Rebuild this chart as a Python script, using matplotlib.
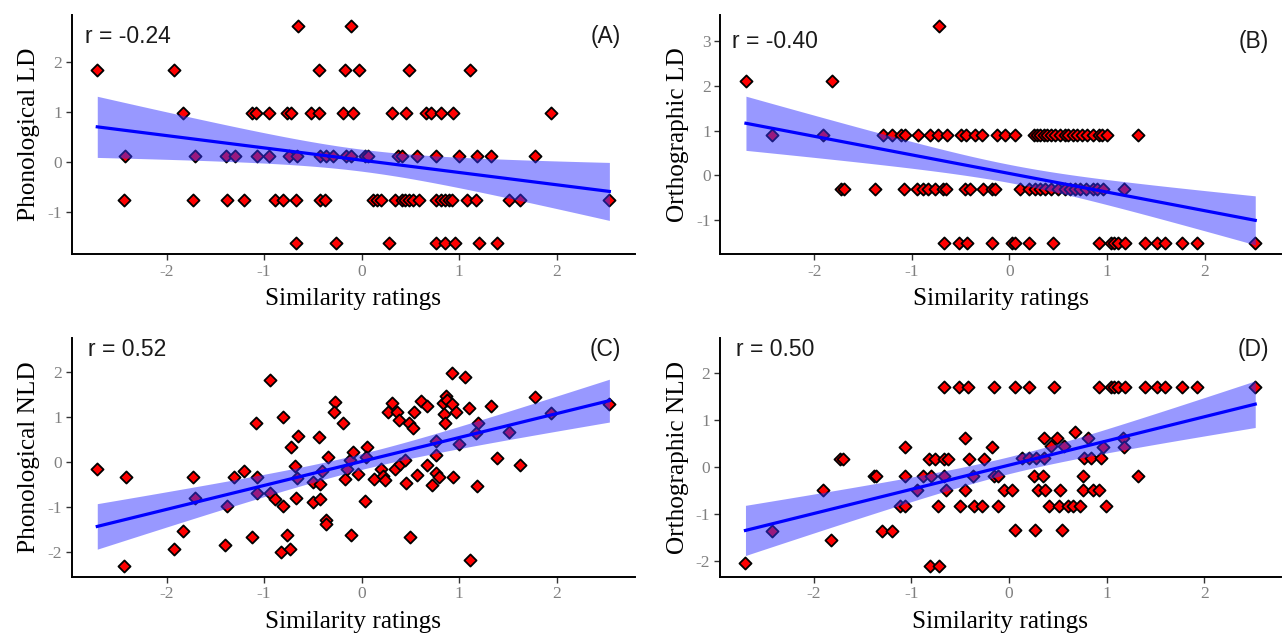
import numpy as np
import matplotlib
matplotlib.use("Agg")
import matplotlib.pyplot as plt
from matplotlib.ticker import MultipleLocator

plt.rcParams['axes.unicode_minus'] = False

# ---- panel A: Phonological LD (discrete y levels) ----
a_levels = [2.72, 1.84, 0.97, 0.11, -0.77, -1.63]
a_rows = [
    [-0.65, -0.11],
    [-2.71, -1.92, -0.44, -0.17, -0.03, 0.49, 1.11],
    [-1.83, -1.12, -1.08, -0.95, -0.76, -0.72, -0.52, -0.44, -0.19, -0.09,
     0.31, 0.45, 0.66, 0.71, 0.81, 0.94, 1.94],
    [-2.43, -1.71, -1.39, -1.30, -1.07, -0.95, -0.74, -0.66, -0.43, -0.36,
     -0.29, -0.16, -0.11, 0.03, 0.07, 0.37, 0.41, 0.57, 0.76, 1.00, 1.18,
     1.33, 1.78],
    [-2.44, -1.73, -1.38, -1.21, -0.89, -0.81, -0.67, -0.43, -0.38, 0.12,
     0.16, 0.20, 0.34, 0.41, 0.44, 0.49, 0.53, 0.59, 0.76, 0.81, 0.86, 0.90,
     0.93, 1.08, 1.17, 1.51, 1.62, 2.54],
    [-0.67, -0.26, 0.28, 0.76, 0.85, 0.96, 1.20, 1.39],
]

# ---- panel B: Orthographic LD (discrete y levels) ----
b_levels = [3.35, 2.11, 0.90, -0.31, -1.52]
b_rows = [
    [-0.72],
    [-2.70, -1.82],
    [-2.43, -1.91, -1.30, -1.20, -1.11, -1.07, -0.94, -0.81, -0.73, -0.64,
     -0.50, -0.44, -0.35, -0.28, -0.13, -0.04, 0.06, 0.25, 0.28, 0.31, 0.35,
     0.39, 0.43, 0.47, 0.52, 0.57, 0.60, 0.65, 0.69, 0.74, 0.80, 0.86, 0.92,
     0.95, 1.00, 1.32],
    [-1.73, -1.70, -1.38, -1.08, -0.95, -0.89, -0.83, -0.76, -0.68, -0.65,
     -0.45, -0.40, -0.27, -0.18, -0.15, 0.11, 0.20, 0.26, 0.31, 0.37, 0.43,
     0.50, 0.57, 0.62, 0.67, 0.72, 0.79, 0.86, 0.90, 0.96, 1.17],
    [-0.67, -0.52, -0.43, -0.18, 0.03, 0.06, 0.20, 0.45, 0.92, 1.04, 1.07,
     1.11, 1.19, 1.39, 1.51, 1.60, 1.77, 1.92, 2.52],
]

# ---- panel C: Phonological NLD ----
c_x = [-2.71, -2.42, -2.44, -1.92, -1.83, -1.73, -1.71, -1.38, -1.40, -1.31,
       -1.21, -1.12, -1.08, -1.07, -1.07, -0.94, -0.94, -0.89, -0.81, -0.81,
       -0.83, -0.73, -0.76, -0.72, -0.68, -0.66, -0.67, -0.65, -0.50, -0.50,
       -0.44, -0.43, -0.43, -0.41, -0.37, -0.36, -0.34, -0.27, -0.28, -0.19,
       -0.17, -0.15, -0.12, -0.09, -0.11, -0.04, 0.03, 0.06, 0.05, 0.13,
       0.20, 0.22, 0.24, 0.31, 0.27, 0.36, 0.38, 0.34, 0.39, 0.44,
       0.49, 0.53, 0.54, 0.46, 0.57, 0.50, 0.61, 0.67, 0.67, 0.76,
       0.76, 0.76, 0.79, 0.72, 0.83, 0.84, 0.85, 0.87, 0.88, 0.93,
       0.93, 0.97, 0.94, 1.00, 1.06, 1.10, 1.11, 1.18, 1.19, 1.17,
       1.33, 1.39, 1.51, 1.62, 1.78, 1.94, 2.54]
c_y = [-0.17, -0.33, -2.31, -1.94, -1.54, -0.33, -0.81, -0.99, -1.85, -0.33,
       -0.21, -1.68, 0.86, -0.33, -0.69, 1.82, -0.69, -0.83, 0.99, -0.99,
       -2.01, -1.94, -1.63, 0.33, -0.10, -0.36, -0.81, 0.58, -0.44, -0.89,
       0.55, -0.50, -0.83, -0.21, -1.29, -1.39, 0.11, 1.32, 1.10, 0.86,
       -0.39, -0.17, 0.05, 0.21, -1.62, -0.26, -0.86, 0.33, 0.11, -0.39,
       -0.16, -0.32, -0.41, 1.30, 1.11, 1.11, 0.93, -0.17, -0.06, 0.05,
       0.86, 0.75, 1.11, -0.46, -0.29, -1.67, 1.34, 1.24, -0.07, 0.14,
       0.46, -0.24, -0.33, -0.52, 1.30, 1.07, 0.86, 1.47, 1.37, 1.98,
       1.28, 1.11, -0.33, 0.40, 1.89, 1.19, -2.17, -0.53, 0.86, 0.64,
       1.23, 0.09, 0.66, -0.07, 1.44, 1.08, 1.28]

# ---- panel D: Orthographic NLD ----
d_x = [-2.70, -2.43, -1.91, -1.82, -1.73, -1.70, -1.38, -1.36, -1.30, -1.20,
       -1.07, -1.07, -1.12, -1.07, -0.94, -0.88, -0.82, -0.80, -0.76, -0.81,
       -0.72, -0.73, -0.67, -0.67, -0.63, -0.65, -0.67, -0.51, -0.42, -0.45,
       -0.41, -0.45, -0.50, -0.36, -0.28, -0.37, -0.26, -0.18, -0.16, -0.15,
       -0.11, -0.11,
       0.06, 0.20, 0.46, 0.92, 1.04, 1.07, 1.11, 1.19, 1.39, 1.51, 1.60, 1.77,
       1.92, 2.52,
       -0.05, 0.03, 0.06, 0.26, 0.54, 0.13, 0.20, 0.28, 0.36, 0.25, 0.35,
       0.30, 0.37, 0.52, 0.41, 0.51, 0.60, 0.65, 0.73, 0.36, 0.49, 0.43,
       0.56, 0.67, 0.81, 0.77, 0.84, 0.94, 0.96, 0.76, 0.76, 0.86, 0.92,
       0.99, 1.17, 1.18, 1.32]
d_y = [-2.03, -1.35, -0.48, -1.56, 0.17, 0.17, -0.20, -0.20, -1.35, -1.35,
       0.42, -0.20, -0.83, -0.83, -0.48, -0.20, 0.17, -0.20, 0.17, -2.10,
       -2.10, -0.83, -0.20, 0.17, 0.17, -0.48, 1.69, 1.69, 1.69, 0.61,
       0.17, -0.48, -0.83, -0.83, -0.83, -0.20, 0.17, 0.42, 1.69, -0.20,
       -0.20, -0.83,
       1.69, 1.69, 1.69, 1.69, 1.69, 1.69, 1.69, 1.69, 1.69, 1.69, 1.69, 1.69,
       1.69, 1.69,
       -0.48, -0.48, -1.34, -1.34, -1.34, 0.19, 0.19, 0.19, 0.19, -0.20, -0.20,
       -0.48, -0.48, -0.48, -0.83, -0.83, -0.83, -0.83, -0.83, 0.61, 0.61, 0.44,
       0.44, 0.75, 0.61, 0.19, 0.19, 0.19, 0.42, -0.20, -0.48, -0.48, -0.48,
       -0.83, 0.61, 0.42, -0.20]


def flatten(levels, rows):
    xs, ys = [], []
    for lv, row in zip(levels, rows):
        xs += row
        ys += [lv] * len(row)
    return np.array(xs), np.array(ys)


a_x, a_y = flatten(a_levels, a_rows)
b_x, b_y = flatten(b_levels, b_rows)

panels = [
    (a_x, a_y, "Phonological LD", "r = -0.24", "(A)", 2.5),
    (b_x, b_y, "Orthographic LD", "r = -0.40", "(B)", 3.0),
    (np.array(c_x), np.array(c_y), "Phonological NLD", "r = 0.52", "(C)", 2.5),
    (np.array(d_x), np.array(d_y), "Orthographic NLD", "r = 0.50", "(D)", 2.5),
]

fig = plt.figure(figsize=(12.82, 6.36), dpi=100)
boxes = [
    [0.0559, 0.6006, 0.4394, 0.3758],
    [0.5620, 0.6006, 0.4370, 0.3758],
    [0.0559, 0.0932, 0.4394, 0.3749],
    [0.5616, 0.0932, 0.4374, 0.3749],
]

serif = "Liberation Serif"
sans = "Liberation Sans"

for box, (x, y, ylab, rtxt, tag, lab_y) in zip(boxes, panels):
    ax = fig.add_axes(box)

    ax.scatter(x, y, marker="D", s=38, facecolor="red", edgecolor="black",
               linewidths=1.3, zorder=2)

    # linear fit with 95% confidence band
    n = len(x)
    slope, icpt = np.polyfit(x, y, 1)
    xs = np.linspace(x.min(), x.max(), 80)
    fit = icpt + slope * xs
    resid = y - (icpt + slope * x)
    s = np.sqrt(np.sum(resid ** 2) / (n - 2))
    se = s * np.sqrt(1 / n + (xs - x.mean()) ** 2 / np.sum((x - x.mean()) ** 2))
    ax.fill_between(xs, fit - 1.98 * se, fit + 1.98 * se, color="#3333ff",
                    alpha=0.5, linewidth=0, zorder=3)
    ax.plot(xs, fit, color="#0000ff", linewidth=2.3, zorder=4)

    # text annotations
    ax.text(-2.4, lab_y, rtxt, ha="center", va="center", fontsize=16.5,
            family=sans, color="#1a1a1a", zorder=5)
    ax.text(2.5, lab_y, tag, ha="center", va="center", fontsize=16.5,
            family=sans, color="#1a1a1a", zorder=5)

    # ggplot-like 5% expansion
    xr = x.max() - x.min()
    ax.set_xlim(x.min() - 0.05 * xr, x.max() + 0.05 * xr)
    ylo, yhi = y.min(), max(y.max(), lab_y)
    yr = yhi - ylo
    ax.set_ylim(ylo - 0.05 * yr, yhi + 0.05 * yr)

    ax.xaxis.set_major_locator(MultipleLocator(1))
    ax.yaxis.set_major_locator(MultipleLocator(1))

    for side in ["top", "right"]:
        ax.spines[side].set_visible(False)
    for side in ["left", "bottom"]:
        ax.spines[side].set_linewidth(1.4)
    ax.tick_params(length=4, width=1.0, color="#333333", labelcolor="#808080",
                   labelsize=12.5, pad=3)
    for lbl in ax.get_xticklabels() + ax.get_yticklabels():
        lbl.set_family(serif)

    ax.set_xlabel("Similarity ratings", fontsize=18.2, family=serif, labelpad=6)
    ax.set_ylabel(ylab, fontsize=18.2, family=serif, labelpad=5)

fig.savefig("out.png", dpi=100)
